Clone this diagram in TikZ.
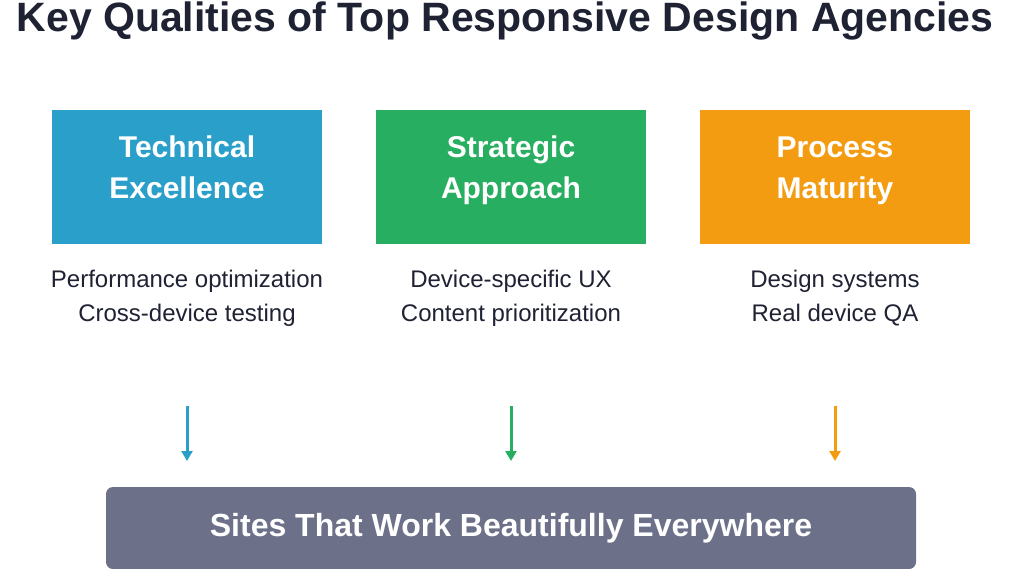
\documentclass[tikz,border=0pt]{standalone}
\usepackage{fontspec}
\setmainfont{Liberation Sans}
\usetikzlibrary{arrows.meta}
\definecolor{cblue}{HTML}{2A9FC9}
\definecolor{cgreen}{HTML}{27AE60}
\definecolor{corange}{HTML}{F39C12}
\definecolor{cgray}{HTML}{6C7089}
\definecolor{ctext}{HTML}{1F2233}
\begin{document}
\begin{tikzpicture}[x=1pt,y=-1pt,
  box/.style={minimum width=270pt,minimum height=134pt,fill=#1,inner sep=0pt},
  boxt/.style={text=white,font=\fontsize{30}{41}\selectfont\bfseries,align=center,anchor=base},
  sub/.style={font=\fontsize{24}{34}\selectfont,text=ctext,align=center,anchor=base},
  arr/.style={line width=3pt,-{Triangle[length=10pt,width=11pt]}}]
\useasboundingbox (0,0) rectangle (1024,569);
\fill[white] (0,0) rectangle (1024,569);
\node[font=\fontsize{41}{48}\selectfont\bfseries,text=ctext,anchor=base] (title) at (505,32) {Key Qualities of Top Responsive Design Agencies};
\node[box=cblue] (b1) at (187,177) {};
\node[box=cgreen] (b2) at (511,177) {};
\node[box=corange] (b3) at (835,177) {};
\node[boxt] (t1) at (187,199) {Technical\\Excellence};
\node[boxt] (t2) at (511,199) {Strategic\\Approach};
\node[boxt] (t3) at (835,199) {Process\\Maturity};
\node[sub] (s1) at (187,321) {Performance optimization\\Cross-device testing};
\node[sub] (s2) at (511,321) {Device-specific UX\\Content prioritization};
\node[sub] (s3) at (835,321) {Design systems\\Real device QA};
\node[fill=cgray,rounded corners=7pt,minimum width=810pt,minimum height=82pt,text=white,font=\fontsize{32}{36}\selectfont\bfseries] (res) at (511,528) {Sites That Work Beautifully Everywhere};
\coordinate (a1) at (187,406); \coordinate (e1) at (187,461);
\coordinate (a2) at (511,406); \coordinate (e2) at (511,461);
\coordinate (a3) at (835,406); \coordinate (e3) at (835,461);
\draw[arr,cblue] (a1) -- (e1);
\draw[arr,cgreen] (a2) -- (e2);
\draw[arr,corange] (a3) -- (e3);
\end{tikzpicture}
\end{document}
